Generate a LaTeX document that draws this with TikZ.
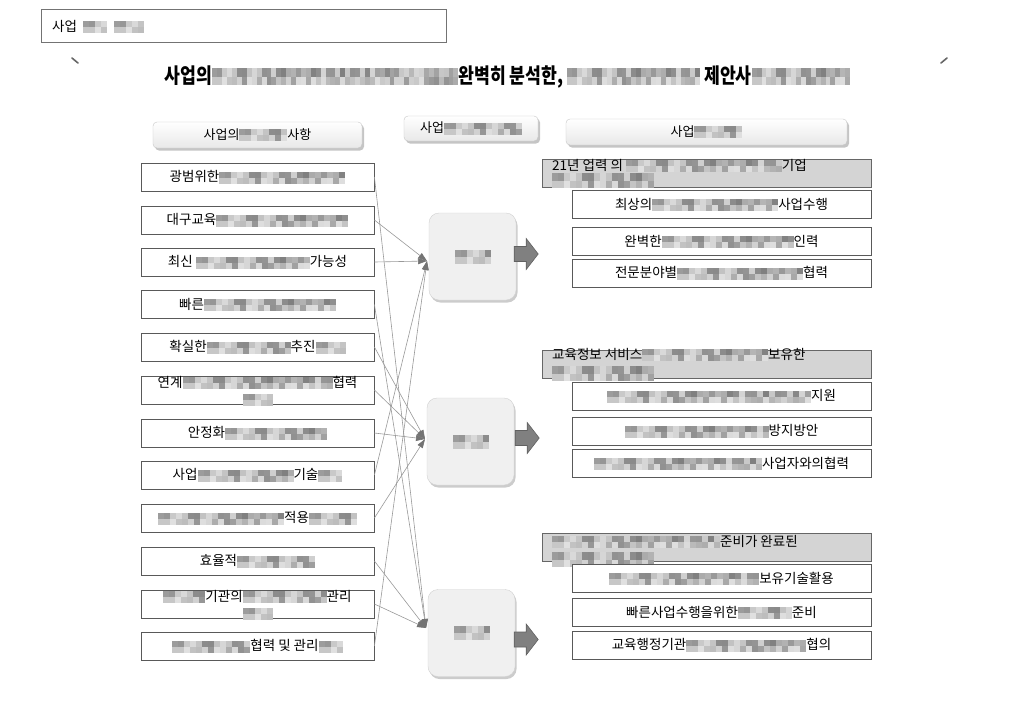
\documentclass[tikz,border=0pt]{standalone}
\usepackage{fontspec}
\setmainfont{Noto Sans CJK KR}
\usetikzlibrary{shadows,arrows.meta,calc}
% pixelated (blurred) text placeholder: two rows of grey cells
\newcommand\bl[2][6pt]{\foreach \bi in {1,...,#2}{\pgfmathtruncatemacro\blA{15+mod(\bi*53+mod(\bi*\bi,41)*7,36)}\pgfmathtruncatemacro\blB{12+mod(\bi*31+mod(\bi*\bi,37)*11,32)}\textcolor{black!\blA}{\rule[\dimexpr#1-2pt\relax]{6pt}{#1}}\llap{\textcolor{black!\blB}{\rule[-2pt]{6pt}{#1}}}}}
\begin{document}
\begin{tikzpicture}[x=1pt,y=-1pt,
  txt/.style={inner sep=0pt,font=\fontsize{13.5}{15}\selectfont},
  lbox/.style={draw=black!65,line width=0.8pt,fill=white,minimum width=233pt,minimum height=28pt,inner sep=0pt,font=\fontsize{13.5}{15}\selectfont},
  rbox/.style={lbox,minimum width=299pt},
  hbar/.style={draw=black!60,line width=0.8pt,fill=black!17,minimum width=329pt,minimum height=28pt,inner sep=0pt},
  hdr/.style={rounded corners=4pt,draw=black!22,top color=white,bottom color=black!9,inner sep=0pt,font=\fontsize{13}{15}\selectfont,
    drop shadow={shadow xshift=2pt,shadow yshift=-2.5pt,fill=black!50,opacity=0.45}},
  mid/.style={rounded corners=10pt,draw=black!18,fill=black!6,minimum width=87pt,minimum height=87pt,inner sep=0pt,
    drop shadow={shadow xshift=1.5pt,shadow yshift=-2.5pt,fill=black!50,opacity=0.4}},
  conn/.style={draw=black!40,line width=0.6pt,-{Triangle[length=9pt,width=6pt,color=black!55]}},
  barrow/.pic={\draw[fill=black!50,draw=black!62,line width=0.6pt] (0,-7.5) -- (12,-7.5) -- (12,-15.5) -- (24,0) -- (12,15.5) -- (12,7.5) -- (0,7.5) -- cycle;}
]
\useasboundingbox[fill=white] (0,0) rectangle (1019,716);

% top label box
\node[draw=black!55,line width=0.9pt,minimum width=405pt,minimum height=33pt,inner sep=0pt] (top) at (243.5,25.5) {};
\node[txt,anchor=base west] (toptext) at (52,31) {사업\hspace{6pt}\bl{4}\hspace{7pt}\bl{5}};

% title
\draw[black!60,line width=1.6pt,line cap=round] (72,58) -- (78,63);
\draw[black!60,line width=1.6pt,line cap=round] (941,63) -- (947,58);
\node[inner sep=0pt] (title) at (507.5,77) {\scalebox{0.82}[1]{\fontsize{21}{25}\selectfont\bfseries 사업의\bl[8.5pt]{50}완벽히 분석한, \bl[8.5pt]{27} 제안사\bl[8.5pt]{20}}};

% column headers
\node[hdr,minimum width=209pt,minimum height=26pt] (hl) at (257.5,135) {사업의\bl{8}사항};
\node[hdr,minimum width=134pt,minimum height=25pt] (hm) at (471,128.5) {사업\bl{13}};
\node[hdr,minimum width=281pt,minimum height=26pt] (hr) at (706.5,132) {사업\bl{8}};

% left boxes
\node[lbox] (l1) at (257.5,177) {광범위한\bl{21}};
\node[lbox] (l2) at (257.5,220) {대구교육\bl{22}};
\node[lbox] (l3) at (257.5,262) {최신 \bl{19}가능성};
\node[lbox] (l4) at (257.5,304.5) {빠른\bl{22}};
\node[lbox] (l5) at (257.5,347) {확실한\bl{14}추진\bl{5}};
\node[lbox] (l6) at (257.5,390) {};
\node[txt,anchor=base] (l6a) at (257.5,387) {연계\bl{25}협력};
\node[txt,anchor=base] (l6b) at (258,404) {\bl{5}};
\node[lbox] (l7) at (257.5,433) {안정화\bl{17}};
\node[lbox] (l8) at (257.5,475) {사업\bl{16}기술\bl{4}};
\node[lbox] (l9) at (257.5,518) {\bl{21}적용\bl{8}};
\node[lbox] (l10) at (257.5,561) {효율적\bl{13}};
\node[lbox] (l11) at (257.5,604) {};
\node[txt,anchor=base] (l11a) at (257.5,601) {\bl{7}기관의\bl{14}관리};
\node[txt,anchor=base] (l11b) at (258,618) {\bl{5}};
\node[lbox] (l12) at (257.5,646) {\bl{13}협력 및 관리\bl{4}};

% middle boxes
\node[mid] (m1) at (472.5,256.5) {\bl[7pt]{6}};
\node[mid] (m2) at (470.5,441.5) {\bl[7pt]{6}};
\node[mid] (m3) at (471.5,633) {\bl[7pt]{6}};
\coordinate (t1) at (427,261);
\coordinate (t2) at (425,439);
\coordinate (t3) at (426,628);

% connectors
\foreach \s/\t in {l1/t3,l2/t1,l3/t1,l4/t3,l5/t2,l6/t2,l7/t2,l8/t1,l9/t2,l10/t3,l11/t3,l12/t1}
  \draw[conn] (\s.east) -- (\t);

% block arrows
\pic at ($(m1.east)+(-2,-2.5)$) {barrow};
\pic at ($(m2.east)+(1,-3.5)$) {barrow};
\pic at ($(m3.east)+(-1,6.5)$) {barrow};

% right group 1
\node[hbar] (g1) at (706.5,173) {};
\node[txt,anchor=base west] (g1a) at (552,170) {21년 업력 의 \bl{26}기업};
\node[txt,anchor=base west] (g1b) at (552,186) {\bl[7.5pt]{17}};
\node[rbox] (s11) at (721.5,204.5) {최상의\bl{21}사업수행};
\node[rbox] (s12) at (721.5,241.5) {완벽한\bl{22}인력};
\node[rbox] (s13) at (721.5,273) {전문분야별\bl{21}협력};

% right group 2
\node[hbar] (g2) at (706.5,364) {};
\node[txt,anchor=base west] (g2a) at (552,359) {교육정보 서비스\bl{21}보유한};
\node[txt,anchor=base west] (g2b) at (552,379) {\bl[7.5pt]{17}};
\node[rbox] (s21) at (721.5,396) {\bl{34}지원};
\node[rbox] (s22) at (721.5,431) {\bl{24}방지방안};
\node[rbox] (s23) at (721.5,463.5) {\bl{28}사업자와의협력};

% right group 3
\node[hbar] (g3) at (706.5,547.5) {};
\node[txt,anchor=base west] (g3a) at (552,546) {\bl{28}준비가 완료된};
\node[txt,anchor=base west] (g3b) at (552,565) {\bl[7.5pt]{17}};
\node[rbox] (s31) at (721.5,578.5) {\bl{25}보유기술활용};
\node[rbox] (s32) at (721.5,612.5) {빠른사업수행을위한\bl{9}준비};
\node[rbox] (s33) at (721.5,645) {교육행정기관\bl{20}협의};
\end{tikzpicture}
\end{document}
